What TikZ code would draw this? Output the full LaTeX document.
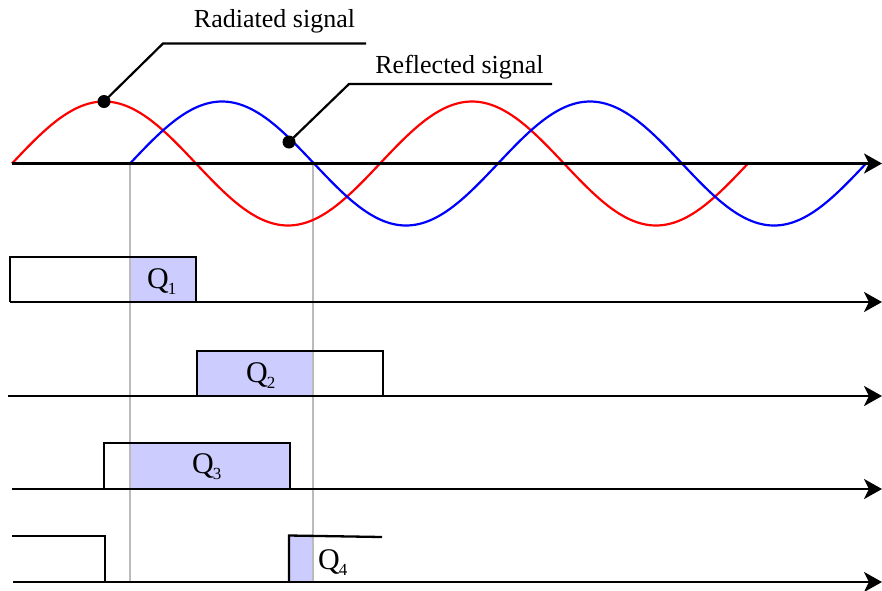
\documentclass[tikz,border=0pt]{standalone}
\usepackage{fontspec}
\setmainfont{Liberation Serif}
\usetikzlibrary{arrows.meta}
\definecolor{shadeblue}{HTML}{CCCCFF}
\definecolor{guidegray}{HTML}{BBBBBB}
\newcommand{\qlab}[1]{Q\kern-1pt\raisebox{-6pt}{\fontsize{17pt}{17pt}\selectfont #1}}
\begin{document}
\begin{tikzpicture}[x=1pt,y=-1pt,
  axis/.style={line width=2.8pt,-{Stealth[length=18pt,width=20pt,inset=5pt]}},
  wave/.style={line width=2.2pt},
  pulse/.style={line width=2.3pt,draw=black},
  lbl/.style={font=\fontsize{26pt}{26pt}\selectfont,inner sep=0pt,anchor=base},
  qlbl/.style={font=\fontsize{30pt}{30pt}\selectfont,inner sep=0pt,anchor=base west},
  dot/.style={circle,fill=black,minimum size=13pt,inner sep=0pt},
  leader/.style={line width=2.2pt},
  guideline/.style={draw=guidegray,line width=2pt},
  shadebox/.style={fill=shadeblue}]
\useasboundingbox (0,0) rectangle (882,590);

% shaded portions
\fill[shadebox] (130,257) rectangle (196,302);
\fill[shadebox] (197,351) rectangle (313,396);
\fill[shadebox] (130,443) rectangle (290,489);
\fill[shadebox] (289,536) rectangle (313,582);

% guide lines
\coordinate (g1t) at (130,163.5);
\coordinate (g1b) at (130,582);
\coordinate (g2t) at (313,163.5);
\coordinate (g2b) at (313,582);
\draw[guideline] (g1t) -- (g1b);
\draw[guideline] (g2t) -- (g2b);

% waves
\draw[wave,red] plot[domain=12:748,samples=300] (\x,{163.5-62*sin((\x-12)/368*360)});
\draw[wave,blue] plot[domain=130:866,samples=300] (\x,{163.5-62*sin((\x-130)/368*360)});

% axes
\coordinate (a0s) at (12,163.5);  \coordinate (a0e) at (882,163.5);
\coordinate (a1s) at (10,302);    \coordinate (a1e) at (882,302);
\coordinate (a2s) at (8,396);     \coordinate (a2e) at (882,396);
\coordinate (a3s) at (12,489);    \coordinate (a3e) at (882,489);
\coordinate (a4s) at (13,582);    \coordinate (a4e) at (882,582);
\draw[axis] (a0s) -- (a0e);
\draw[axis] (a1s) -- (a1e);
\draw[axis] (a2s) -- (a2e);
\draw[axis] (a3s) -- (a3e);
\draw[axis] (a4s) -- (a4e);

% pulses
\draw[pulse] (10,302) -- (10,257) -- (196,257) -- (196,302);
\draw[pulse] (197,396) -- (197,351) -- (383,351) -- (383,396);
\draw[pulse] (104,489) -- (104,443) -- (290,443) -- (290,489);
\draw[pulse] (12,536) -- (105,536) -- (105,582);
\draw[pulse] (289,582) -- (289,535.5) -- (382,537);

% Q labels
\node[qlbl] (q1) at (147,288) {\qlab{1}};
\node[qlbl] (q2) at (246,382) {\qlab{2}};
\node[qlbl] (q3) at (192,473) {\qlab{3}};
\node[qlbl] (q4) at (318,569) {\qlab{4}};

% leaders and labels
\node[dot] (d1) at (104,101.5) {};
\node[dot] (d2) at (289,142) {};
\coordinate (k1) at (163,43.5);
\coordinate (e1) at (366,43.5);
\coordinate (k2) at (349,84);
\coordinate (e2) at (552,84);
\draw[leader] (d1.center) -- (k1) -- (e1);
\draw[leader] (d2.center) -- (k2) -- (e2);
\node[lbl] (rad) at (274.5,27) {Radiated signal};
\node[lbl] (ref) at (459.5,73) {Reflected signal};
\end{tikzpicture}
\end{document}
